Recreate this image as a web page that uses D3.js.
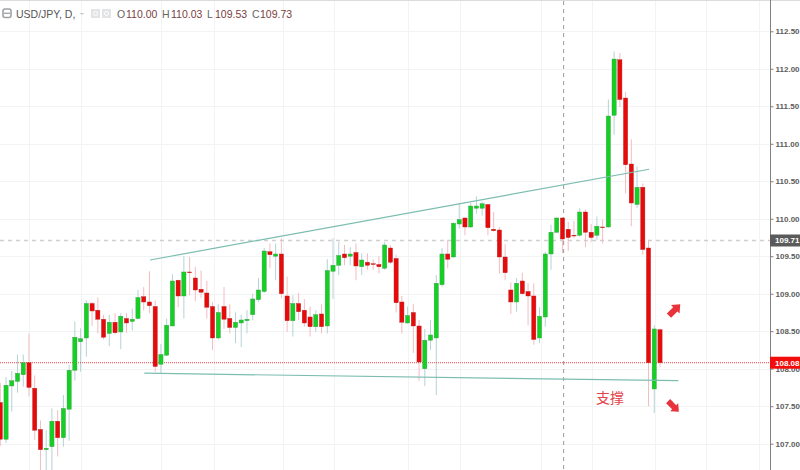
<!DOCTYPE html>
<html>
<head>
<meta charset="UTF-8">
<title>USD/JPY, D</title>
<script src="https://cdnjs.cloudflare.com/ajax/libs/d3/7.8.5/d3.min.js"></script>
<style type="text/css">
	html, body { margin: 0; padding: 0; background: #fff; overflow: hidden; }
	svg { display: block; }
	text { font-family: "Liberation Sans", Arial, sans-serif; }
	.axis path, .axis line { stroke: #808080; }
	.axis text { fill: #5c5c5c; font-size: 8px; font-family: "Liberation Sans", Arial, sans-serif; font-weight: bold; }
</style>
</head>
<body>
<script>
// daily candles, oldest first
var opens = [107.55,107.06,107.77,107.83,107.92,108.08,107.74,107.19,106.92,106.96,
	107.30,107.08,107.46,107.98,108.36,108.41,108.87,108.78,108.66,108.47,
	108.62,108.49,108.67,108.63,108.67,108.96,108.89,108.83,108.06,108.18,
	108.57,109.18,108.97,109.29,109.21,109.06,109.01,108.83,108.41,108.83,
	108.67,108.55,108.61,108.64,108.72,108.92,109.03,109.56,109.50,109.53,
	108.97,108.64,108.87,108.78,108.69,108.56,108.73,108.57,109.30,109.38,
	109.53,109.50,109.55,109.36,109.42,109.40,109.39,109.34,109.61,109.47,
	108.89,108.61,108.75,108.57,108.00,108.38,108.41,109.12,109.53,109.49,
	109.93,110.01,109.89,110.14,110.14,110.19,109.86,109.85,109.49,109.05,
	108.89,109.17,109.03,108.97,108.41,108.69,109.53,109.82,110.01,109.86,
	109.78,109.78,110.09,109.82,109.78,109.89,109.89,111.38,112.12,111.61,
	110.73,110.19,110.42,109.61,107.73,108.52];
var highs = [107.81,107.89,107.97,108.19,108.19,108.47,107.91,107.31,107.18,107.47,
	107.45,107.65,108.05,108.63,108.54,108.91,108.89,108.95,108.72,108.72,
	108.74,108.74,108.74,108.80,109.05,109.09,109.30,108.91,108.33,108.67,
	109.26,109.19,109.50,109.49,109.36,109.31,109.17,108.89,108.86,109.09,
	108.86,108.75,108.72,108.78,109.00,109.21,109.61,109.67,109.67,109.74,
	109.23,108.98,109.01,108.93,108.83,108.78,108.86,109.46,109.74,109.69,
	109.65,109.62,109.67,109.54,109.54,109.46,109.50,109.69,109.65,109.52,
	108.97,108.83,108.86,108.65,108.53,108.65,109.25,109.61,109.72,109.95,
	110.21,110.02,110.21,110.30,110.23,110.20,110.09,109.89,109.66,109.15,
	109.21,109.28,109.14,109.14,108.82,109.56,109.92,110.02,110.02,109.96,
	109.97,110.14,110.12,109.93,110.03,109.99,111.59,112.23,112.21,111.69,
	111.06,110.70,110.47,109.72,108.58,108.54];
var lows = [106.97,107.01,107.43,107.68,107.76,107.63,107.05,106.58,106.58,106.58,
	106.83,106.96,107.04,107.84,107.96,108.16,108.57,108.47,108.39,108.30,
	108.46,108.26,108.48,108.51,108.66,108.78,108.74,107.96,107.94,108.17,
	108.57,108.82,108.67,108.98,108.90,108.94,108.67,108.25,108.39,108.53,
	108.47,108.34,108.29,108.47,108.65,108.89,109.01,109.34,109.18,108.94,
	108.49,108.43,108.65,108.56,108.43,108.49,108.47,108.47,108.93,109.25,
	109.38,109.38,109.18,109.25,109.32,109.32,109.27,109.32,109.40,108.75,
	108.47,108.60,108.21,107.84,107.77,108.25,107.65,109.09,109.34,109.48,
	109.87,109.78,109.88,110.07,110.04,109.78,109.83,109.27,109.18,108.73,
	108.76,108.99,108.58,108.32,108.34,108.56,109.32,109.81,109.54,109.57,
	109.74,109.76,109.62,109.69,109.72,109.67,109.88,111.12,111.49,110.34,
	109.90,110.14,109.52,107.50,107.41,108.02];
var closes = [107.06,107.78,107.84,107.94,108.08,107.75,107.18,106.92,106.94,107.30,
	107.08,107.47,107.98,108.42,108.40,108.87,108.77,108.66,108.42,108.62,
	108.48,108.70,108.61,108.66,108.95,108.89,108.84,108.03,108.19,108.58,
	109.17,108.97,109.29,109.28,109.05,109.02,108.82,108.41,108.75,108.66,
	108.55,108.62,108.65,108.66,108.93,109.05,109.57,109.52,109.53,109.00,
	108.64,108.87,108.76,108.61,108.56,108.72,108.56,109.31,109.38,109.51,
	109.48,109.53,109.37,109.45,109.38,109.39,109.36,109.65,109.42,108.88,
	108.62,108.71,108.57,108.09,108.38,108.45,109.14,109.53,109.46,109.94,
	109.99,109.89,110.17,110.17,110.20,109.88,109.84,109.49,109.28,108.89,
	109.14,109.00,108.97,108.39,108.70,109.53,109.82,110.01,109.73,109.75,
	109.77,110.09,109.82,109.75,109.90,109.88,111.37,112.13,111.59,110.72,
	110.21,110.42,109.59,108.08,108.53,108.08];

var priceTicks = [107,107.5,108,108.5,109,109.5,110,110.5,111,111.5,112,112.5];
var gridDays = [5.05,14.1,28.05,37.3,49.2,58.15,71.1,80.2,94.3,103.2,114.15,123.05,132.3];
var crossDay = 98.2;
var lastPrice = 108.08;
var crossPrice = 109.71;
// trend lines: [day, price] ends
var upperLine = [[26.1,109.45],[113.1,110.66]];
var lowerLine = [[25.1,107.94],[118.2,107.84]];
var legendLabels = ["O","110.00","H","110.03","L","109.53","C","109.73"];
var legendX = [117,126,162,171,207,215,252,260];

var width = 800, height = 470;
var plotRight = 770;

var svg = d3.select("body").append("svg")
	.attr("width", width)
	.attr("height", height);

var x = d3.scaleLinear().domain([0, 115]).range([0.3, 660]);
var y = d3.scaleLinear().domain([107, 112.5]).range([443.7, 31.3]);

// top border
svg.append("line").attr("x1", 0).attr("x2", width).attr("y1", 0.5).attr("y2", 0.5)
	.attr("stroke", "#dcdcdc").attr("stroke-width", 1);

// grid
svg.append("g").selectAll("line").data(priceTicks).enter().append("line")
	.attr("x1", 0).attr("x2", plotRight)
	.attr("y1", function(d){ return Math.round(y(d)) + 0.5; })
	.attr("y2", function(d){ return Math.round(y(d)) + 0.5; })
	.attr("stroke", "#f2f3f5");
svg.append("g").selectAll("line").data(gridDays).enter().append("line")
	.attr("x1", function(d){ return Math.round(x(d)) + 0.5; })
	.attr("x2", function(d){ return Math.round(x(d)) + 0.5; })
	.attr("y1", 1).attr("y2", height)
	.attr("stroke", "#f2f3f5");

// crosshair
svg.append("line")
	.attr("x1", 0).attr("x2", plotRight)
	.attr("y1", y(crossPrice)).attr("y2", y(crossPrice))
	.attr("stroke", "#cfcfcf").attr("stroke-dasharray", "4,4").attr("stroke-width", 1.5);
svg.append("line")
	.attr("x1", x(crossDay)).attr("x2", x(crossDay))
	.attr("y1", 1).attr("y2", height)
	.attr("stroke", "#9a9a9a").attr("stroke-dasharray", "4,4");

// candles
var days = d3.range(opens.length);
var isUp = function(i){ return closes[i] > opens[i]; };

svg.append("g").selectAll("line").data(days).enter().append("line")
	.attr("x1", function(i){ return x(i); })
	.attr("x2", function(i){ return x(i); })
	.attr("y1", function(i){ return y(highs[i]); })
	.attr("y2", function(i){ return y(lows[i]); })
	.attr("stroke", function(i){ return isUp(i) ? "#b4d3d6" : "#f3bcc0"; })
	.attr("stroke-width", 1);

// current price line goes under the bodies
svg.append("line")
	.attr("x1", 0).attr("x2", plotRight)
	.attr("y1", y(lastPrice)).attr("y2", y(lastPrice))
	.attr("stroke", "#f0474c").attr("stroke-dasharray", "1,1").attr("stroke-width", 1);

svg.append("g").selectAll("rect").data(days).enter().append("rect")
	.attr("x", function(i){ return x(i) - 2.1; })
	.attr("width", 4.2)
	.attr("y", function(i){ return y(Math.max(opens[i], closes[i])); })
	.attr("height", function(i){ return Math.abs(y(opens[i]) - y(closes[i])); })
	.attr("fill", function(i){ return isUp(i) ? "#14d024" : "#e80a0a"; })
	.attr("stroke", function(i){ return isUp(i) ? "#3a9a48" : "#b02222"; })
	.attr("stroke-width", 0.4);

// trend lines
var trend = d3.line()
	.x(function(d){ return x(d[0]); })
	.y(function(d){ return y(d[1]); });
svg.selectAll(".trend").data([upperLine, lowerLine]).enter().append("path")
	.attr("class", "trend")
	.attr("d", trend)
	.attr("fill", "none")
	.attr("stroke", "#7cbdb0")
	.attr("stroke-width", 1.2);

// hand drawn arrows
var arrow = "M0,-8 L6,-1 L3,-1 L3,8 L-3,8 L-3,-1 L-6,-1 Z";
svg.append("path").attr("d", arrow).attr("fill", "#e8323c")
	.attr("transform", "translate(674.6,310)  rotate(45)");
svg.append("path").attr("d", arrow).attr("fill", "#e8323c")
	.attr("transform", "translate(673.5,406.5) rotate(135) scale(0.95)");

svg.append("text")
	.attr("x", 596).attr("y", 403)
	.attr("fill", "#e2434b")
	.style("font-family", "'Noto Sans CJK SC', sans-serif")
	.style("font-size", "14px")
	.text("支撑");

// price axis
var axis = d3.axisRight(y).tickValues(priceTicks).tickSize(3).tickPadding(2)
	.tickFormat(d3.format(".2f"));
var axisG = svg.append("g").attr("class", "axis")
	.attr("transform", "translate(" + (plotRight + 0.5) + ",0)")
	.call(axis);
axisG.select(".domain").attr("d", "M0,0V" + height).attr("stroke-width", 1);

// price tags
function priceTag(price, fill){
	svg.append("rect")
		.attr("x", plotRight).attr("width", 30)
		.attr("y", y(price) - 6).attr("height", 12)
		.attr("fill", fill);
	svg.append("text")
		.attr("x", plotRight + 5).attr("y", y(price) + 3)
		.attr("fill", "#fff")
		.style("font-size", "8px").style("font-weight", "bold")
		.text(d3.format(".2f")(price));
}
priceTag(crossPrice, "#5a5a5a");
priceTag(lastPrice, "#f20d0d");

// legend header
svg.append("rect").attr("x", 3).attr("y", 9).attr("width", 8).attr("height", 8.5).attr("rx", 2)
	.attr("fill", "#fff").attr("stroke", "#9fa1a3").attr("stroke-width", 1.6);
svg.append("line").attr("x1", 4).attr("x2", 10).attr("y1", 13.3).attr("y2", 13.3)
	.attr("stroke", "#9fa1a3").attr("stroke-width", 1.3);
svg.append("text").attr("x", 16).attr("y", 18)
	.attr("fill", "#555")
	.style("font-size", "10.5px")
	.text("USD/JPY, D,");
svg.append("path").attr("d", "M79.5,13 L84.5,13 L82,15 Z").attr("fill", "#ccc");
[91, 102].forEach(function(ix){
	svg.append("rect").attr("x", ix).attr("y", 9).attr("width", 9).attr("height", 9)
		.attr("fill", "#e3e4e5");
	svg.append("circle").attr("cx", ix + 4.5).attr("cy", 13.5).attr("r", 2)
		.attr("fill", "none").attr("stroke", "#fff");
});
svg.append("g").selectAll("text").data(legendLabels).enter().append("text")
	.attr("x", function(d, i){ return legendX[i]; })
	.attr("y", 18)
	.attr("fill", function(d, i){ return i % 2 ? "#7a4040" : "#666"; })
	.style("font-size", "10.5px")
	.text(function(d){ return d; });
</script>
</body>
</html>
